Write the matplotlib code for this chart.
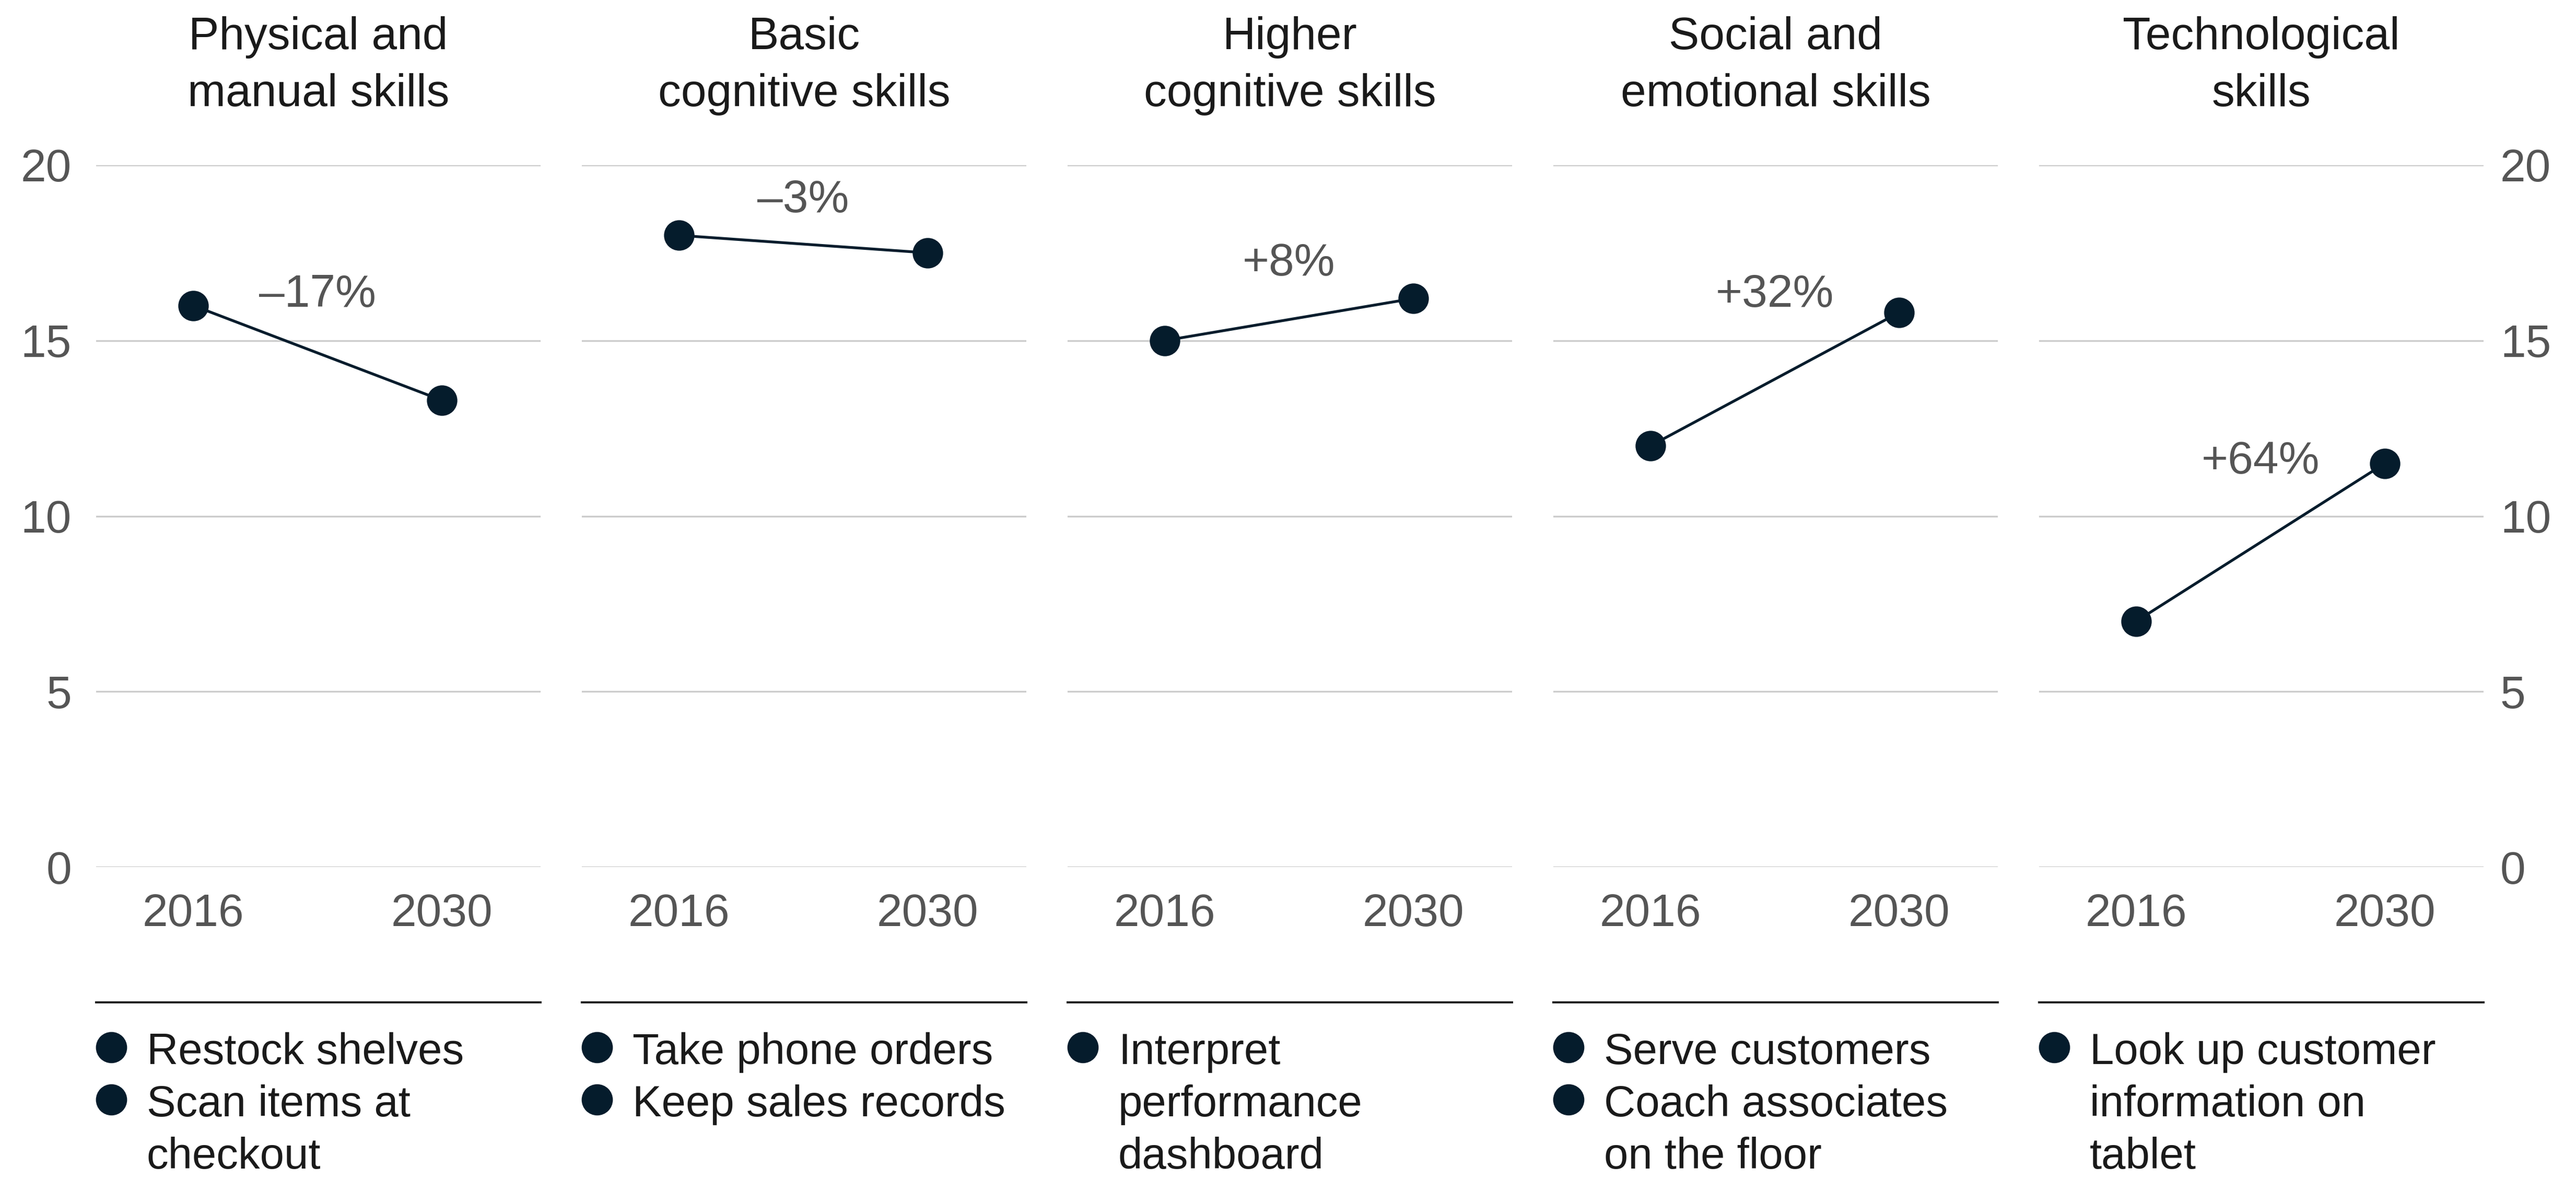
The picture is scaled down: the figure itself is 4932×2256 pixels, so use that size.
import matplotlib.pyplot as plt
from matplotlib.lines import Line2D

# data
skills = ["Physical and\nmanual skills", "Basic\ncognitive skills", "Higher\ncognitive skills",
          "Social and\nemotional skills", "Technological\nskills"]
years = ["2016", "2030"]
hours_2016 = [16.0, 18.0, 15.0, 12.0, 7.0]
hours_2030 = [13.3, 17.5, 16.2, 15.8, 11.5]
change_labels = ["–17%", "–3%", "+8%", "+32%", "+64%"]
activities = [
    ["Restock shelves", "Scan items at\ncheckout"],
    ["Take phone orders", "Keep sales records"],
    ["Interpret\nperformance\ndashboard"],
    ["Serve customers", "Coach associates\non the floor"],
    ["Look up customer\ninformation on\ntablet"],
]
y_ticks = [0, 5, 10, 15, 20]

# layout (where the change label sits, in data units)
label_y = [16.3, 19.0, 17.2, 16.3, 11.55]

plt.rcParams['font.family'] = ['Liberation Sans', 'DejaVu Sans']

NAVY = "#051c2c"
GRAY = "#555555"
DARK = "#1a1a1a"
GRID = "#cccccc"

W, H = 4932, 2256
fig = plt.figure(figsize=(W / 100, H / 100), dpi=100)


def fx(px):
    return px / W


def fy(py):
    return 1 - py / H


panel_w = 851
pitch = 930
y0_px, y20_px = 1659, 316
fs = 63

for i in range(len(skills)):
    left = 184 + pitch * i
    ax = fig.add_axes([fx(left), fy(y0_px), panel_w / W, (y0_px - y20_px) / H])
    ax.set_xlim(-0.39, 1.397)
    ax.set_ylim(0, 20)
    ax.patch.set_alpha(0)
    for s in ax.spines.values():
        s.set_visible(False)

    for t in y_ticks:
        ax.axhline(t, color=GRID, lw=2.4, zorder=1)

    ax.plot([0, 1], [hours_2016[i], hours_2030[i]], color=NAVY, lw=3.8,
            marker="o", ms=41, clip_on=False, zorder=3)

    ax.text(0.5, label_y[i], change_labels[i], ha="center", va="center",
            fontsize=fs, color=GRAY)

    ax.set_xticks([0, 1])
    ax.set_xticklabels(years)
    ax.tick_params(axis="x", length=0, pad=36, labelsize=fs, labelcolor=GRAY)

    if i == 0:
        ax.set_yticks(y_ticks)
        ax.tick_params(axis="y", length=0, pad=34, labelsize=fs, labelcolor=GRAY)
    elif i == len(skills) - 1:
        ax.set_yticks(y_ticks)
        ax.yaxis.tick_right()
        ax.tick_params(axis="y", length=0, pad=23, labelsize=fs, labelcolor=GRAY)
    else:
        ax.set_yticks([])

    # title, line by line
    center = left + panel_w / 2
    for k, line in enumerate(skills[i].split("\n")):
        fig.text(fx(center), fy(94 + 109 * k), line, ha="center", va="baseline",
                 fontsize=fs, color=DARK)

    # separator above the activity list
    fig.add_artist(Line2D([fx(left), fx(left + panel_w)], [fy(1918), fy(1918)],
                          lw=2.9, color="#222222", transform=fig.transFigure))

    # bulleted activities
    row = 0
    for item in activities[i]:
        fig.add_artist(Line2D([fx(left + 29)], [fy(2004 + 100 * row)], marker="o",
                              ms=42, color=NAVY, linestyle="none",
                              transform=fig.transFigure))
        for line in item.split("\n"):
            fig.text(fx(left + 97), fy(2036 + 100 * row), line, ha="left",
                     va="baseline", fontsize=60, color=DARK)
            row += 1

fig.savefig("out.png", dpi=100)
